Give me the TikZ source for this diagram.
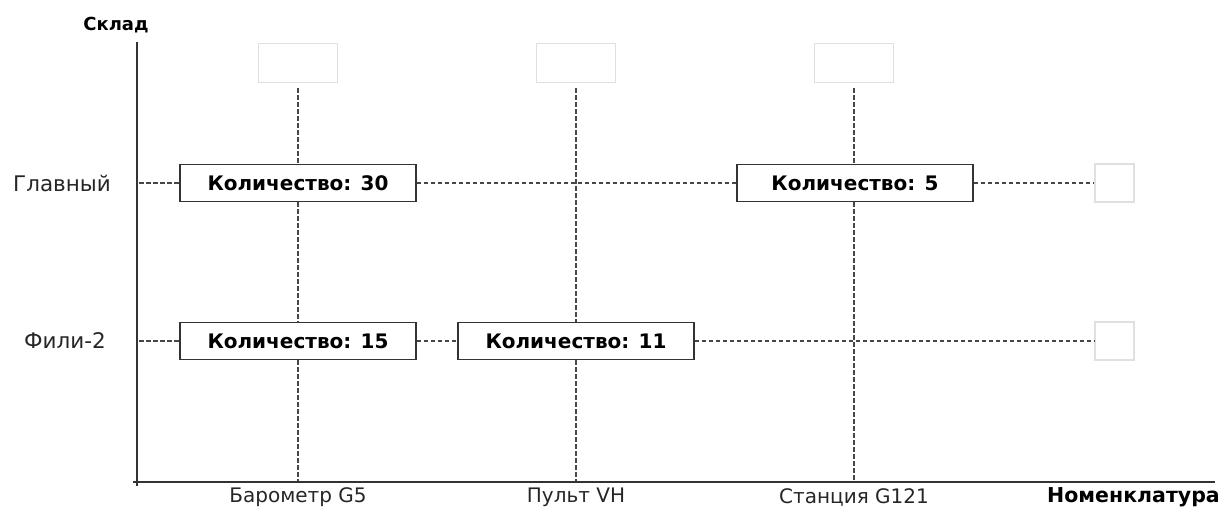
\documentclass[tikz,border=0pt]{standalone}
\usepackage{fontspec}
\setmainfont{DejaVu Sans}
\begin{document}
\begin{tikzpicture}[x=1pt,y=-1pt,
  axis/.style={draw=black!80, line width=1.6pt},
  grid/.style={draw=black!72, line width=1.3pt, dash pattern=on 4.5pt off 2.5pt},
  qty/.style={draw=black!80, line width=1.7pt, fill=white, minimum width=236pt,
    minimum height=37pt, inner sep=0pt, font=\fontsize{20}{22}\selectfont\bfseries},
  slot/.style={draw=black!12, line width=1.6pt, minimum width=79pt,
    minimum height=39pt, inner sep=0pt},
  endslot/.style={draw=black!12, line width=1.6pt, minimum width=39pt,
    minimum height=38pt, inner sep=0pt},
  lbl/.style={font=\fontsize{20}{22}\selectfont, text=black!85, inner sep=0pt},
  rowlbl/.style={lbl, font=\fontsize{21.5}{22}\selectfont},
  title/.style={font=\fontsize{18}{20}\selectfont\bfseries, inner sep=0pt}]
\useasboundingbox (0,0) rectangle (1221,508);

% axes
\coordinate (o) at (137,482);
\coordinate (ytop) at (137,42);
\coordinate (xend) at (1215,482);
\draw[axis] (ytop) -- (137,486);
\draw[axis] (133,482) -- (xend);
\node[title] (ylab) at (116,25) {Склад};
\node[title, font=\fontsize{20.5}{22}\selectfont\bfseries, anchor=east] (xlab) at (1220,497) {Номенклатура};

% column headers
\node[slot] (s1) at (298,63) {};
\node[slot] (s2) at (576,63) {};
\node[slot] (s3) at (854,63) {};

% row end slots
\node[endslot] (e1) at (1114.5,183) {};
\node[endslot] (e2) at (1114.5,341) {};

% row labels
\node[rowlbl] (r1lab) at (62,183) {Главный};
\node[rowlbl] (r2lab) at (65,341) {Фили-2};
\coordinate (r1) at (139,183);
\coordinate (r2) at (139,341);

% column labels
\node[lbl] (c1lab) at (298,497) {Барометр G5};
\node[lbl] (c2lab) at (576,497) {Пульт VH};
\node[lbl] (c3lab) at (854,497) {Станция G121};
\coordinate (c1) at (298,481);
\coordinate (c2) at (576,481);
\coordinate (c3) at (854,481);

% quantities
\node[qty] (q30) at (298,183) {Количество: 30};
\node[qty] (q5)  at (855,183) {Количество: 5};
\node[qty] (q15) at (298,341) {Количество: 15};
\node[qty] (q11) at (576,341) {Количество: 11};

% row guides
\draw[grid] (r1) -- (q30.west);
\draw[grid] (q30.east) -- (q5.west);
\draw[grid] (q5.east) -- (e1.west);
\draw[grid] (r2) -- (q15.west);
\draw[grid] (q15.east) -- (q11.west);
\draw[grid] (q11.east) -- (e2.west);

% column guides
\draw[grid, shorten <=5pt] (s1.south) -- (q30.north);
\draw[grid] (q30.south) -- (q15.north);
\draw[grid] (q15.south) -- (c1);
\draw[grid, shorten <=5pt] (s2.south) -- (q11.north);
\draw[grid] (q11.south) -- (c2);
\draw[grid, shorten <=5pt] (s3.south) -- (s3.south |- q5.north);
\draw[grid] (s3.south |- q5.south) -- (c3);
\end{tikzpicture}
\end{document}
